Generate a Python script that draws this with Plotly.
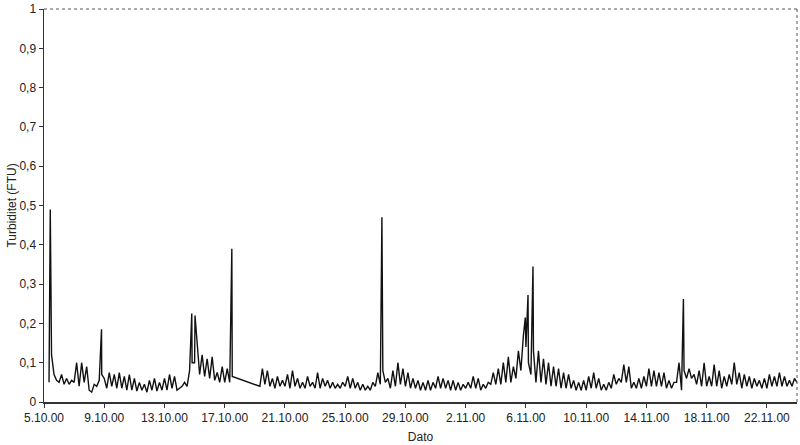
import plotly.graph_objects as go
import pandas as pd

# ---- data ----
start_day = "2000-10-05"
hours = [0, 4, 8, 12, 16, 20]
# one row per day (5.10.00 ... 23.11.00), values at 00,04,08,12,16,20 h
daily_rows = [
    [None, None, 0.05, 0.12, 0.07, 0.055],   # 5.10
    [0.05, 0.07, 0.045, 0.06, 0.045, 0.055],
    [0.05, 0.10, 0.04, 0.10, 0.05, 0.09],
    [0.03, 0.025, 0.045, 0.04, 0.055, 0.07],
    [0.06, 0.035, 0.075, 0.04, 0.07, 0.035],  # 9.10
    [0.075, 0.035, 0.065, 0.03, 0.07, 0.03],
    [0.06, 0.028, 0.05, 0.03, 0.045, 0.025],
    [0.055, 0.03, 0.06, 0.028, 0.05, 0.03],
    [0.06, 0.03, 0.07, 0.035, 0.065, 0.03],   # 13.10
    [0.035, 0.04, 0.05, 0.04, 0.08, 0.10],
    [0.10, 0.15, 0.07, 0.12, 0.065, 0.11],
    [0.06, 0.115, 0.055, 0.075, 0.05, 0.09],
    [0.05, 0.085, 0.05, 0.065, None, None],   # 17.10
    [None, None, None, None, None, None],
    [None, None, 0.04, 0.085, 0.045, 0.08],
    [0.04, 0.06, 0.035, 0.065, 0.04, 0.055],
    [0.04, 0.07, 0.035, 0.08, 0.04, 0.06],    # 21.10
    [0.035, 0.05, 0.035, 0.065, 0.04, 0.05],
    [0.035, 0.075, 0.035, 0.06, 0.04, 0.055],
    [0.035, 0.05, 0.035, 0.045, 0.035, 0.05],
    [0.04, 0.065, 0.035, 0.06, 0.035, 0.05],  # 25.10
    [0.03, 0.045, 0.03, 0.04, 0.03, 0.05],
    [0.04, 0.075, 0.045, 0.08, 0.05, 0.06],
    [0.035, 0.08, 0.04, 0.10, 0.045, 0.085],
    [0.04, 0.075, 0.035, 0.06, 0.035, 0.055], # 29.10
    [0.03, 0.05, 0.03, 0.055, 0.03, 0.05],
    [0.035, 0.065, 0.035, 0.06, 0.035, 0.055],
    [0.03, 0.055, 0.03, 0.05, 0.03, 0.045],
    [0.035, 0.05, 0.035, 0.065, 0.035, 0.06], # 2.11
    [0.03, 0.045, 0.035, 0.05, 0.045, 0.075],
    [0.045, 0.085, 0.045, 0.10, 0.05, 0.115],
    [0.05, 0.09, 0.06, 0.13, 0.08, 0.17],
    [0.14, 0.10, 0.07, 0.13, 0.05, 0.13],     # 6.11
    [0.05, 0.11, 0.045, 0.10, 0.04, 0.09],
    [0.04, 0.085, 0.035, 0.075, 0.035, 0.07],
    [0.035, 0.055, 0.03, 0.05, 0.03, 0.055],
    [0.03, 0.065, 0.035, 0.075, 0.035, 0.06], # 10.11
    [0.03, 0.045, 0.03, 0.05, 0.035, 0.07],
    [0.045, 0.06, 0.05, 0.095, 0.05, 0.09],
    [0.035, 0.05, 0.035, 0.06, 0.035, 0.065],
    [0.04, 0.085, 0.04, 0.08, 0.04, 0.075],   # 14.11
    [0.04, 0.075, 0.035, 0.055, 0.035, 0.05],
    [0.05, 0.10, 0.03, 0.08, 0.06, 0.085],
    [0.06, 0.07, 0.045, 0.08, 0.04, 0.10],
    [0.04, 0.065, 0.04, 0.095, 0.04, 0.08],   # 18.11
    [0.035, 0.065, 0.04, 0.07, 0.045, 0.10],
    [0.045, 0.075, 0.035, 0.07, 0.04, 0.065],
    [0.035, 0.06, 0.04, 0.055, 0.035, 0.06],
    [0.035, 0.07, 0.04, 0.065, 0.04, 0.075],  # 22.11
    [0.04, 0.065, 0.04, 0.055, 0.04, 0.06],
]
last_time = "2000-11-24 00:00"
last_value = 0.05

# isolated short spikes
spike_times = ["2000-10-05 10:00", "2000-10-08 19:40", "2000-10-14 19:30",
               "2000-10-15 00:40", "2000-10-17 11:20", "2000-10-27 10:30",
               "2000-11-05 23:00", "2000-11-06 03:20", "2000-11-06 11:15",
               "2000-11-16 11:00"]
spike_values = [0.49, 0.185, 0.225, 0.22, 0.39, 0.47, 0.215, 0.272, 0.345, 0.262]

tick_dates = ["2000-10-05", "2000-10-09", "2000-10-13", "2000-10-17", "2000-10-21",
              "2000-10-25", "2000-10-29", "2000-11-02", "2000-11-06", "2000-11-10",
              "2000-11-14", "2000-11-18", "2000-11-22"]
tick_labels = ["5.10.00", "9.10.00", "13.10.00", "17.10.00", "21.10.00", "25.10.00",
               "29.10.00", "2.11.00", "6.11.00", "10.11.00", "14.11.00", "18.11.00",
               "22.11.00"]

# ---- build series ----
t0 = pd.Timestamp(start_day)
times, vals = [], []
for d, row in enumerate(daily_rows):
    for h, v in zip(hours, row):
        if v is not None:
            times.append(t0 + pd.Timedelta(days=d, hours=h))
            vals.append(v)
times.append(pd.Timestamp(last_time)); vals.append(last_value)
for t, v in zip(spike_times, spike_values):
    times.append(pd.Timestamp(t)); vals.append(v)
df = pd.DataFrame({"t": times, "v": vals}).sort_values("t")

fig = go.Figure()
fig.add_trace(go.Scatter(x=df["t"], y=df["v"], mode="lines",
                         line=dict(color="#111111", width=1.4), showlegend=False,
                         hoverinfo="skip"))

font = "Liberation Sans, Arial, sans-serif"
fig.update_layout(
    width=800, height=445,
    margin=dict(l=44, r=3, t=9, b=43),
    paper_bgcolor="white", plot_bgcolor="white",
    separators=", ",
    font=dict(family=font, size=12, color="#222222"),
    xaxis=dict(range=["2000-10-05", "2000-11-24"], tickvals=tick_dates, ticktext=tick_labels,
               showgrid=False, zeroline=False, showline=True, linecolor="#333333", linewidth=1.5,
               automargin=False, ticks="outside", ticklen=4, tickcolor="#333333",
               title=dict(text="Dato", font=dict(size=12), standoff=8),
               tickfont=dict(size=12)),
    yaxis=dict(range=[0, 1], dtick=0.1, showgrid=False, zeroline=False, showline=True,
               automargin=False,
               linecolor="#333333", linewidth=1.5, ticks="outside", ticklen=4,
               tickcolor="#333333",
               title=dict(text="Turbiditet (FTU)", font=dict(size=12), standoff=0),
               tickfont=dict(size=12)),
    shapes=[
        dict(type="line", xref="paper", yref="paper", x0=0, y0=1, x1=1, y1=1,
             line=dict(color="#555555", width=1, dash="dot")),
        dict(type="line", xref="paper", yref="paper", x0=1, y0=0, x1=1, y1=1,
             line=dict(color="#555555", width=1, dash="dot")),
    ],
)

fig.write_html("out.html", config={"displayModeBar": False, "staticPlot": True},
               post_script="document.body.style.margin='0';document.body.style.padding='0';")
